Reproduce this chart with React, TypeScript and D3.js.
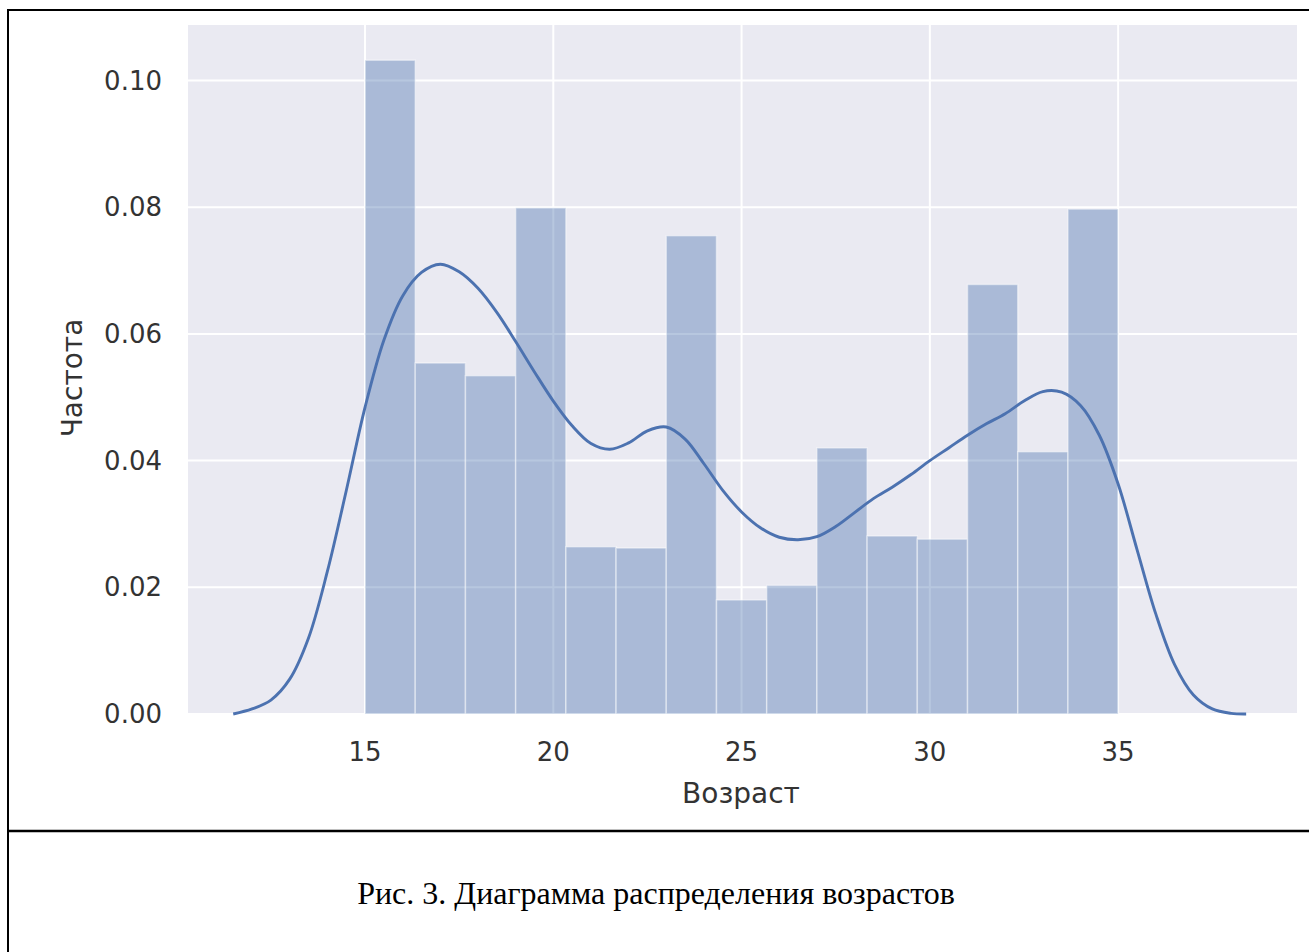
import React from 'react';
import * as d3 from 'd3';

// histogram: 15 bins between 15 and 35 (density)
const binStart = 15;
const binEnd = 35;
const binDensity = [0.1032, 0.0554, 0.0534, 0.0799, 0.0264, 0.0262, 0.0755, 0.0180, 0.0203, 0.0420, 0.0281, 0.0276, 0.0678, 0.0414, 0.0797];

// kde curve
const kdeAge = [11.5, 12.0, 12.5, 13.0, 13.5, 14.0, 14.5, 15.0, 15.5, 16.0, 16.5, 17.0, 17.5, 18.0, 18.5, 19.0, 19.5, 20.0, 20.5, 21.0, 21.5, 22.0, 22.5, 23.0, 23.5, 24.0, 24.5, 25.0, 25.5, 26.0, 26.5, 27.0, 27.5, 28.0, 28.5, 29.0, 29.5, 30.0, 30.5, 31.0, 31.5, 32.0, 32.5, 33.0, 33.5, 34.0, 34.5, 35.0, 35.5, 36.0, 36.5, 37.0, 37.5, 38.0, 38.4];
const kdeDensity = [0.0, 0.0008, 0.0022, 0.0055, 0.0120, 0.0225, 0.0352, 0.0484, 0.0590, 0.0660, 0.0697, 0.0710, 0.0698, 0.0672, 0.0634, 0.0588, 0.0540, 0.0494, 0.0455, 0.0427, 0.0418, 0.0428, 0.0447, 0.0453, 0.0434, 0.0395, 0.0353, 0.0319, 0.0294, 0.0279, 0.0275, 0.0280, 0.0296, 0.0318, 0.0340, 0.0358, 0.0378, 0.0400, 0.0420, 0.0440, 0.0458, 0.0474, 0.0494, 0.0509, 0.0508, 0.0487, 0.0440, 0.0363, 0.0260, 0.0158, 0.0078, 0.0030, 0.0008, 0.0001, 0.0];

const xTicks = [15, 20, 25, 30, 35];
const yTicks = [0, 0.02, 0.04, 0.06, 0.08, 0.10];

const xLabel = 'Возраст';
const yLabel = 'Частота';
const caption = 'Рис. 3. Диаграмма распределения возрастов';

const W = 1309;
const H = 952;
const plot = {left: 188, right: 1297, top: 25, bottom: 714};
const sans = '"DejaVu Sans", sans-serif';

export default function App() {
    const x = d3.scaleLinear().domain([10.299, 39.75]).range([plot.left, plot.right]);
    const y = d3.scaleLinear().domain([0, 0.10876]).range([plot.bottom, plot.top]);

    const binW = (binEnd - binStart) / binDensity.length;
    const bins = binDensity.map((v, i) => ({x0: binStart + i * binW, x1: binStart + (i + 1) * binW, v}));

    const kde = kdeAge.map((a, i) => [a, kdeDensity[i]] as [number, number]);
    const line = d3.line<[number, number]>()
        .x(d => x(d[0]))
        .y(d => y(d[1]))
        .curve(d3.curveCatmullRom.alpha(0.5));

    return (
        <svg width={W} height={H} style={{position: 'absolute', left: 0, top: 0, background: '#fff'}}>
            {/* frame of the document table */}
            <line x1={8} x2={W} y1={10} y2={10} stroke="#000" strokeWidth={2}/>
            <line x1={8} x2={8} y1={9} y2={H} stroke="#000" strokeWidth={2}/>
            <line x1={8} x2={W} y1={831} y2={831} stroke="#000" strokeWidth={2.3}/>

            <rect x={plot.left} y={plot.top} width={plot.right - plot.left} height={plot.bottom - plot.top} fill="#EAEAF2"/>
            {yTicks.map(t => (
                <line key={'gy' + t} x1={plot.left} x2={plot.right} y1={y(t)} y2={y(t)} stroke="#fff" strokeWidth={2}/>
            ))}
            {xTicks.map(t => (
                <line key={'gx' + t} x1={x(t)} x2={x(t)} y1={plot.top} y2={plot.bottom} stroke="#fff" strokeWidth={2}/>
            ))}

            {bins.map((b, i) => (
                <rect key={i} x={x(b.x0)} y={y(b.v)} width={x(b.x1) - x(b.x0)} height={y(0) - y(b.v)}
                      fill="#4C72B0" fillOpacity={0.4} stroke="#fff" strokeOpacity={0.45} strokeWidth={1.5}/>
            ))}

            <path d={line(kde) || ''} fill="none" stroke="#4C72B0" strokeWidth={2.9}/>

            {yTicks.map(t => (
                <text key={'ty' + t} x={162} y={y(t)} dy="0.35em" textAnchor="end" fontFamily={sans} fontSize={26} fill="#333">
                    {d3.format('.2f')(t)}
                </text>
            ))}
            {xTicks.map(t => (
                <text key={'tx' + t} x={x(t)} y={761} textAnchor="middle" fontFamily={sans} fontSize={26} fill="#333">
                    {t}
                </text>
            ))}

            <text x={741} y={803} textAnchor="middle" fontFamily={sans} fontSize={28} fill="#333">{xLabel}</text>
            <text transform={`translate(82,378) rotate(-90)`} textAnchor="middle" fontFamily={sans} fontSize={28} fill="#333">{yLabel}</text>

            <text x={656} y={904} textAnchor="middle" fontFamily='"Liberation Serif", "Times New Roman", serif' fontSize={32} fill="#000">
                {caption}
            </text>
        </svg>
    );
}
